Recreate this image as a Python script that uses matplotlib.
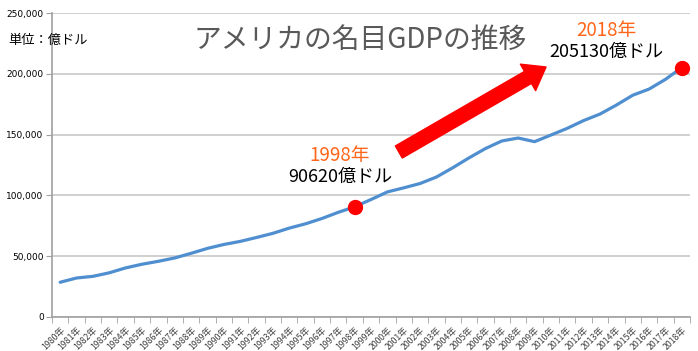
import matplotlib.pyplot as plt
import numpy as np

plt.rcParams['font.family'] = ['Noto Sans CJK JP', 'DejaVu Sans']

# アメリカの名目GDP (億ドル)
years = list(range(1980, 2019))
gdp = [28573, 32074, 33433, 36343, 40373, 43389, 45797, 48553, 52364, 56417,
       59631, 62158, 65397, 68787, 73088, 76640, 81002, 86085, 90620, 96606,
       102848, 106218, 109775, 115109, 122749, 130937, 138559, 144776, 147186, 144189,
       149644, 155179, 161553, 166916, 174276, 182383, 187451, 195430, 205130]
year_labels = [f'{y}年' for y in years]
highlight = [1998, 2018]
y_ticks = [0, 50000, 100000, 150000, 200000, 250000]

fig = plt.figure(figsize=(6.98, 3.51), dpi=100)
ax = fig.add_axes([52 / 698, 34 / 351, 638 / 698, 304 / 351])

x = np.arange(len(years))
ax.plot(x, gdp, color='#4F8FD0', lw=2.3, solid_capstyle='round', zorder=3)

for yr in highlight:
    i = years.index(yr)
    ax.plot(x[i], gdp[i], 'o', color='#FF0000', ms=10, zorder=4)

ax.set_xlim(-0.5, len(years) - 0.5)
ax.set_ylim(0, 250000)
ax.set_yticks(y_ticks)
ax.set_yticklabels([f'{v:,}' for v in y_ticks], fontsize=6.5, family='DejaVu Sans')
ax.yaxis.grid(True, color='#C8C8C8', lw=1.2)
ax.set_axisbelow(True)

ax.set_xticks(x)
ax.set_xticklabels(year_labels, fontsize=6.3, rotation=45, ha='right',
                   rotation_mode='anchor', color='#404040')
ax.set_xticks(np.arange(len(years) + 1) - 0.5, minor=True)
ax.tick_params(axis='x', which='major', length=0, pad=6)
ax.tick_params(axis='x', which='minor', length=4, color='#A0A0A0')
ax.tick_params(axis='y', length=4, color='#A0A0A0', pad=2)

for s in ['top', 'right']:
    ax.spines[s].set_visible(False)
for s in ['left', 'bottom']:
    ax.spines[s].set_color('#A0A0A0')
    ax.spines[s].set_linewidth(1.2)

# 注記
orange = '#FF6619'
ax.text(17.1, 133200, '1998年', color=orange, fontsize=13.5, ha='center', va='center')
ax.text(17.1, 115100, '90620億ドル', color='black', fontsize=13, ha='center', va='center')
ax.text(33.4, 236000, '2018年', color=orange, fontsize=13.5, ha='center', va='center')
ax.text(33.4, 218000, '205130億ドル', color='black', fontsize=13, ha='center', va='center')

ax.annotate('', xy=(29.7, 205600), xytext=(20.7, 135700),
            arrowprops=dict(arrowstyle='simple,head_length=0.75,head_width=1.1,tail_width=0.5',
                            color='#FF0000', mutation_scale=20, shrinkA=0, shrinkB=0),
            zorder=5)

fig.text(360 / 698, 1 - 40 / 351, 'アメリカの名目GDPの推移', fontsize=20,
         color='#595959', ha='center', va='center')
fig.text(8 / 698, 1 - 40 / 351, '単位：億ドル', fontsize=9.5, color='black',
         ha='left', va='center')

fig.savefig('out.png', dpi=100)
